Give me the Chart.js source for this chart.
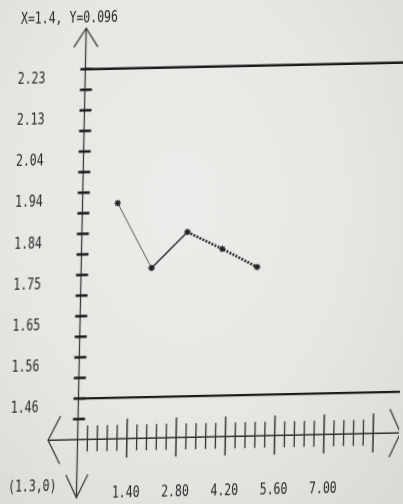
<!DOCTYPE html>
<html>
<head>
<meta charset="utf-8">
<script src="https://cdn.jsdelivr.net/npm/chart.js@4/dist/chart.umd.min.js"></script>
<style>
  html, body { margin: 0; padding: 0; width: 403px; height: 504px; overflow: hidden; }
  body { background: radial-gradient(ellipse at 45% 40%, #ececea 0%, #e6e6e3 55%, #d9d9d5 100%); }
  #wrap { position: absolute; left: 0; top: 0; width: 403px; height: 504px;
          transform: matrix(1, -0.021, -0.021, 1, 0, 0); transform-origin: 201.5px 252px; filter: blur(0.35px); }
  canvas { display: block; }
</style>
</head>
<body>
<div id="wrap"><canvas id="c" width="403" height="504"></canvas></div>
<script>
// ---- data ----
const xValues = [1, 2, 3, 4, 5];
const yValues = [1.914, 1.761, 1.843, 1.802, 1.758];
const limitValues = [2.228, 1.46];
const yLabelValues = [2.228, 2.132, 2.036, 1.94, 1.844, 1.748, 1.652, 1.556, 1.46];
const yTickLabels = ['2.23', '2.13', '2.04', '1.94', '1.84', '1.75', '1.65', '1.56', '1.46'];
const xLabelValues = [1.4, 2.8, 4.2, 5.6, 7.0];
const xTickLabels = ['1.40', '2.80', '4.20', '5.60', '7.00'];
const yMinorTicks = [1.412, 1.46, 1.508, 1.556, 1.604, 1.652, 1.7, 1.748, 1.796, 1.844, 1.892, 1.94, 1.988, 2.036, 2.084, 2.132, 2.18, 2.228];
const xMinorTicks = [0.28, 0.56, 0.84, 1.12, 1.4, 1.68, 1.96, 2.24, 2.52, 2.8, 3.08, 3.36, 3.64, 3.92, 4.2, 4.48, 4.76, 5.04, 5.32, 5.6, 5.88, 6.16, 6.44, 6.72, 7.0, 7.28, 7.56, 7.84, 8.12, 8.4];
const xMajorTicks = [1.4, 2.8, 4.2, 5.6, 7.0, 8.4];
const axisOrigin = { x: 0, y: 1.364 };
const headerText = 'X=1.4, Y=0.096';
const originText = '(1.3,0)';
const lineEndX = 9.6;

const FONT = '11.5px "DejaVu Sans Mono", "Liberation Mono", monospace';
const INK = '#262626';

function tallText(ctx, txt, x, y, align) {
  ctx.save();
  ctx.translate(x, y);
  ctx.scale(1, 1.42);
  ctx.font = FONT;
  ctx.textAlign = align;
  ctx.textBaseline = 'middle';
  ctx.fillStyle = INK;
  ctx.fillText(txt, 0, 0);
  ctx.restore();
}
function seg(ctx, x1, y1, x2, y2) { ctx.beginPath(); ctx.moveTo(x1, y1); ctx.lineTo(x2, y2); ctx.stroke(); }

const axesPlugin = {
  id: 'plotterAxes',
  beforeDatasetsDraw(chart) {
    const ctx = chart.ctx, xs = chart.scales.x, ys = chart.scales.y;
    const ax = xs.getPixelForValue(axisOrigin.x);
    const ay = ys.getPixelForValue(axisOrigin.y);
    const topY = ys.getPixelForValue(limitValues[0]) - 41;
    const botY = ay + 58;
    const leftX = ax - 29.5;
    const rightX = ax + 323;
    ctx.save();
    ctx.lineCap = 'butt';
    // y axis
    ctx.strokeStyle = '#3a3a3a'; ctx.lineWidth = 1.3;
    seg(ctx, ax, topY, ax, botY);
    // y arrows
    ctx.beginPath(); ctx.moveTo(ax - 12, topY + 19); ctx.lineTo(ax, topY); ctx.lineTo(ax + 12, topY + 19); ctx.stroke();
    ctx.beginPath(); ctx.moveTo(ax - 11, botY - 23); ctx.lineTo(ax, botY); ctx.lineTo(ax + 11, botY - 23); ctx.stroke();
    // x axis
    ctx.lineWidth = 1.6; ctx.strokeStyle = '#2e2e2e';
    seg(ctx, leftX, ay, rightX, ay);
    ctx.lineWidth = 1.3; ctx.strokeStyle = '#3a3a3a';
    ctx.beginPath(); ctx.moveTo(leftX + 12, ay - 24); ctx.lineTo(leftX, ay); ctx.lineTo(leftX + 12, ay + 24); ctx.stroke();
    ctx.beginPath(); ctx.moveTo(rightX - 11, ay - 24); ctx.lineTo(rightX, ay); ctx.lineTo(rightX - 11, ay + 24); ctx.stroke();
    // x ticks
    xMinorTicks.forEach(v => {
      const px = xs.getPixelForValue(v);
      const major = xMajorTicks.some(m => Math.abs(m - v) < 1e-6);
      ctx.lineWidth = major ? 1.5 : 1.3;
      ctx.strokeStyle = '#333';
      if (major) seg(ctx, px, ay - 20, px, ay + 19);
      else seg(ctx, px, ay - 14, px, ay + 12);
    });
    // y ticks
    ctx.lineWidth = 2.6; ctx.strokeStyle = '#1c1c1c';
    yMinorTicks.forEach(v => {
      const py = ys.getPixelForValue(v);
      seg(ctx, ax - 5, py, ax + 7, py);
    });
    // labels
    yLabelValues.forEach((v, i) => {
      tallText(ctx, yTickLabels[i], 14, ys.getPixelForValue(v) + 9, 'left');
    });
    xLabelValues.forEach((v, i) => {
      tallText(ctx, xTickLabels[i], xs.getPixelForValue(v), 491.5, 'center');
    });
    tallText(ctx, headerText, 16, 16, 'left');
    tallText(ctx, originText, 13, 483.5, 'left');
    ctx.restore();
  }
};

function segStyle(i) {
  if (i === 0) return { w: 1.0, c: '#5a5a5a', d: [] };
  if (i === 1) return { w: 1.5, c: '#2a2a2a', d: [] };
  return { w: 2.6, c: '#2a2a2a', d: [2, 1.4] };
}

new Chart(document.getElementById('c'), {
  type: 'scatter',
  data: {
    datasets: [
      {
        label: 'upper',
        data: [{ x: axisOrigin.x, y: limitValues[0] }, { x: lineEndX, y: limitValues[0] }],
        showLine: true, borderColor: '#1b1b1b', borderWidth: 2.4, pointRadius: 0
      },
      {
        label: 'lower',
        data: [{ x: axisOrigin.x, y: limitValues[1] }, { x: lineEndX, y: limitValues[1] }],
        showLine: true, borderColor: '#1b1b1b', borderWidth: 2.4, pointRadius: 0
      },
      {
        label: 'series',
        data: xValues.map((x, i) => ({ x, y: yValues[i] })),
        showLine: true,
        borderColor: '#2a2a2a',
        borderWidth: 1.5,
        pointStyle: 'star',
        pointRadius: 3.2,
        pointBorderWidth: 1.4,
        pointBorderColor: '#222',
        segment: {
          borderWidth: c => segStyle(c.p0DataIndex).w,
          borderColor: c => segStyle(c.p0DataIndex).c,
          borderDash: c => segStyle(c.p0DataIndex).d
        }
      }
    ]
  },
  options: {
    responsive: false,
    animation: false,
    devicePixelRatio: 1,
    layout: { padding: 0, autoPadding: false },
    plugins: { legend: { display: false }, tooltip: { enabled: false } },
    scales: {
      x: { type: 'linear', display: false, min: -2.315, max: 9.134 },
      y: { type: 'linear', display: false, min: 1.2084, max: 2.3835 }
    }
  },
  plugins: [axesPlugin]
});
</script>
</body>
</html>
